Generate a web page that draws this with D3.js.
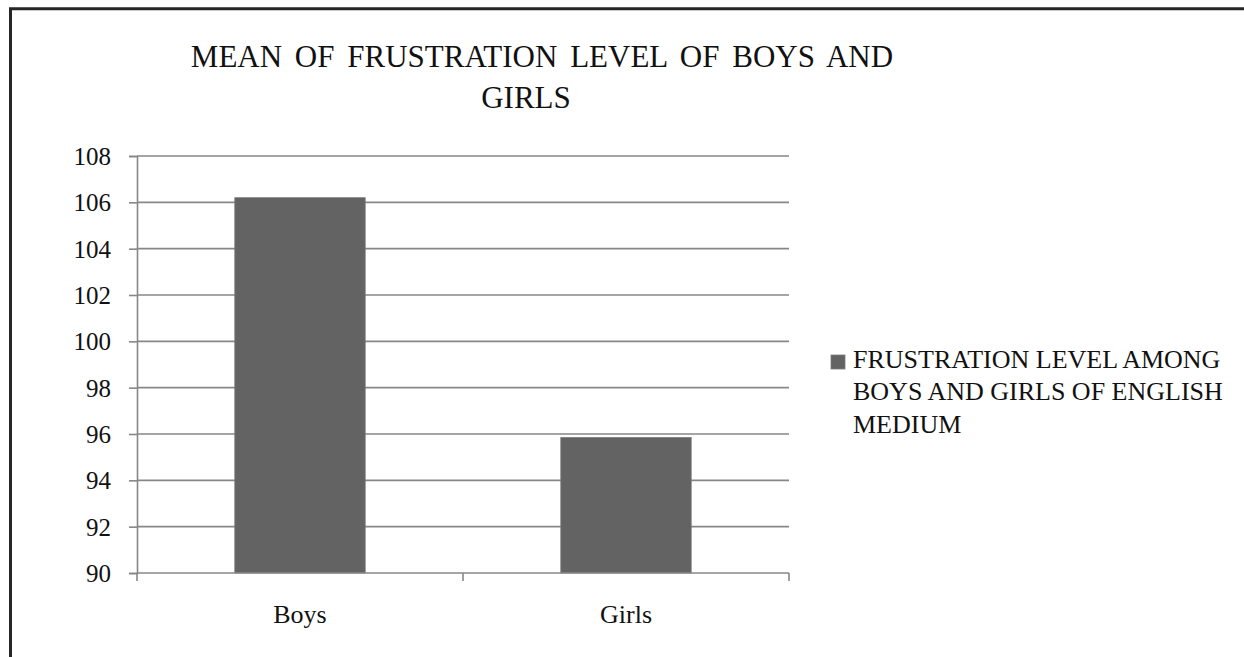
<!DOCTYPE html>
<html>
<head>
<meta charset="utf-8">
<script src="https://cdn.jsdelivr.net/npm/d3@7"></script>
<style>
  html, body { margin: 0; padding: 0; background: #fff; }
  svg { display: block; }
  svg text { font-family: "Liberation Serif", "Times New Roman", Times, serif !important; }
</style>
</head>
<body>
<svg id="chart" width="1244" height="657"></svg>
<script>
const categories = ["Boys", "Girls"];
const values = [106.2, 95.85];
const yTicks = [90, 92, 94, 96, 98, 100, 102, 104, 106, 108];
const titleLines = ["MEAN OF FRUSTRATION LEVEL OF BOYS AND", "GIRLS"];
const legendLines = ["FRUSTRATION LEVEL AMONG", "BOYS AND GIRLS OF ENGLISH", "MEDIUM"];

const svg = d3.select("#chart");
const W = 1244, H = 657;
const plot = { left: 137, right: 789, top: 156, bottom: 573 };
const gridColor = "#878787";
const barColor = "#636363";
const serif = "'Liberation Serif', 'Times New Roman', serif";

// outer frame (top and left edges)
svg.append("path")
  .attr("d", `M10.5,${H} L10.5,8.8 L${W},8.8`)
  .attr("fill", "none").attr("stroke", "#262626").attr("stroke-width", 3);

const x = d3.scaleBand().domain(categories).range([plot.left, plot.right]).padding(0);
const y = d3.scaleLinear().domain([90, 108]).range([plot.bottom, plot.top]);

// gridlines + y ticks
const yAxis = d3.axisLeft(y).tickValues(yTicks).tickSize(8).tickFormat(d3.format("d")).tickPadding(18);
const gy = svg.append("g").attr("transform", `translate(${plot.left},0)`).call(yAxis)
  .attr("font-family", serif);
gy.select(".domain").attr("stroke", gridColor).attr("stroke-width", 1.6);
gy.selectAll(".tick line").attr("stroke", gridColor).attr("stroke-width", 1.6);
gy.selectAll(".tick text").attr("fill", "#111").attr("font-size", 25).attr("dy", "0.34em");

svg.append("g").selectAll("line.grid").data(yTicks.filter(d => d !== 90)).join("line")
  .attr("x1", plot.left).attr("x2", plot.right)
  .attr("y1", d => y(d)).attr("y2", d => y(d))
  .attr("stroke", gridColor).attr("stroke-width", 1.6);

// bars
const barW = x.bandwidth() * 0.4;
svg.append("g").selectAll("rect").data(categories).join("rect")
  .attr("x", (d) => x(d) + (x.bandwidth() - barW) / 2)
  .attr("width", barW)
  .attr("y", (d, i) => y(values[i]))
  .attr("height", (d, i) => y(90) - y(values[i]))
  .attr("fill", barColor).attr("stroke", "#7a7a7a").attr("stroke-width", 0.8);

// x axis
const xAxis = d3.axisBottom(x).tickSize(0).tickPadding(0);
const gx = svg.append("g").attr("transform", `translate(0,${plot.bottom})`).call(xAxis)
  .attr("font-family", serif);
gx.select(".domain").remove();
gx.selectAll(".tick text").attr("fill", "#111").attr("font-size", 26).attr("y", 50).attr("dy", 0);
svg.append("line").attr("x1", plot.left).attr("x2", plot.right)
  .attr("y1", plot.bottom).attr("y2", plot.bottom)
  .attr("stroke", gridColor).attr("stroke-width", 1.6);
const boundaries = [plot.left, ...categories.map(c => x(c) + x.bandwidth())];
svg.append("g").selectAll("line").data(boundaries).join("line")
  .attr("x1", d => d).attr("x2", d => d)
  .attr("y1", plot.bottom).attr("y2", plot.bottom + 8)
  .attr("stroke", gridColor).attr("stroke-width", 1.6);

// title
const title = svg.append("text").attr("font-size", 31).attr("fill", "#111")
  .attr("text-anchor", "middle").attr("word-spacing", "5px");
title.append("tspan").attr("x", 542).attr("y", 66.7).text(titleLines[0]);
title.append("tspan").attr("x", 526).attr("y", 108.3).text(titleLines[1]);

// legend
svg.append("rect").attr("x", 831).attr("y", 355).attr("width", 14).attr("height", 14)
  .attr("fill", barColor).attr("stroke", "#7a7a7a").attr("stroke-width", 0.8);
const leg = svg.append("text").attr("font-size", 26).attr("fill", "#111");
legendLines.forEach((t, i) => {
  leg.append("tspan").attr("x", 853).attr("y", 367.7 + i * 32.6).text(t);
});
</script>
</body>
</html>
